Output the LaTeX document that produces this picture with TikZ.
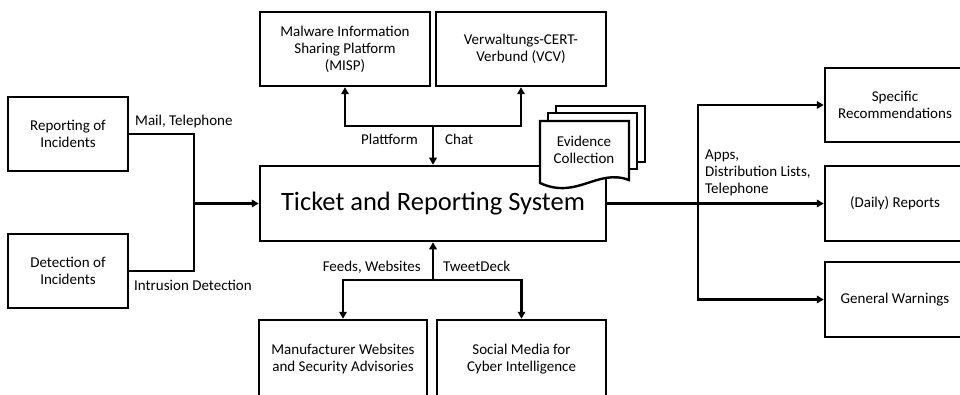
\documentclass[tikz,border=0pt]{standalone}
\usepackage{fontspec}
\setmainfont{Carlito}
\usetikzlibrary{arrows.meta}
\tikzset{
  box/.style={draw, line width=2.5pt, fill=white, align=center, font=\fontsize{15}{17}\selectfont, inner sep=0pt},
  conn/.style={line width=2.5pt},
  arr/.style={line width=2.5pt, -{Triangle[length=7pt,width=7.5pt]}},
  lbl/.style={font=\fontsize{15}{17}\selectfont, inner sep=0pt, align=left},
  sheet/.style={draw, line width=2.4pt, fill=white, line join=miter}
}
\begin{document}
\begin{tikzpicture}[x=1pt,y=-1pt]
\useasboundingbox (0,0) rectangle (960,395);
\clip (0,0) rectangle (960,395);
\fill[white] (0,0) rectangle (960,395);
% nodes
\node[box, minimum width=346pt, minimum height=75pt, font=\fontsize{26.5}{30}\selectfont] (ticket) at (433,203.5) {Ticket and Reporting System};
\node[box, minimum width=120pt, minimum height=74pt] (rep) at (68,134) {Reporting of\\Incidents};
\node[box, minimum width=120pt, minimum height=74pt] (det) at (68,271) {Detection of\\Incidents};
\node[box, minimum width=170pt, minimum height=74pt] (misp) at (345,49) {Malware Information\\Sharing Platform\\(MISP)};
\node[box, minimum width=170pt, minimum height=74pt] (vcv) at (521,49) {Verwaltungs-CERT-\\Verbund (VCV)};
\node[box, minimum width=168pt, minimum height=78pt] (manu) at (343,359) {Manufacturer Websites\\and Security Advisories};
\node[box, minimum width=169pt, minimum height=78pt] (soc) at (521.5,359) {Social Media for\\Cyber Intelligence};
\node[box, minimum width=140pt, minimum height=74pt] (spec) at (895,105) {Specific\\Recommendations};
\node[box, minimum width=140pt, minimum height=75pt] (daily) at (895,203.5) {(Daily) Reports};
\node[box, minimum width=140pt, minimum height=75pt] (gen) at (895,299.5) {General Warnings};
% junctions
\coordinate (jl) at (194,203.5);
\coordinate (jt) at (433,126);
\coordinate (jb) at (433,280);
\coordinate (jr) at (698,203.5);
% left
\draw[conn] (rep.east) -| (jl);
\draw[conn] (det.east) -| (jl);
\draw[arr] (jl) -- (ticket.west);
\node[lbl, anchor=base west] (l1) at (135,126) {Mail, Telephone};
\node[lbl, anchor=base west] (l2) at (134,290) {Intrusion Detection};
% top
\draw[arr] (jt) -| (misp.south);
\draw[arr] (jt) -| (vcv.south);
\draw[arr] (jt) -- (ticket.north);
\node[lbl, anchor=base east] (l3) at (418,145) {Plattform};
\node[lbl, anchor=base west] (l4) at (445,145) {Chat};
% bottom
\draw[arr] (jb) -- (ticket.south);
\draw[arr] (jb) -| (manu.north);
\draw[arr] (jb) -| (soc.north);
\node[lbl, anchor=base east] (l5) at (421,271) {Feeds, Websites};
\node[lbl, anchor=base west] (l6) at (443,271) {TweetDeck};
% right
\draw[arr] (ticket.east) -- (daily.west);
\draw[arr] (jr) |- (spec.west);
\draw[arr] (jr) |- (gen.west);
\node[lbl, anchor=north west] (l7) at (705,150) {Apps,\\Distribution Lists,\\Telephone};
% evidence collection
\draw[sheet] (556,106) rectangle (645,162);
\draw[sheet] (548,113) rectangle (637,169);
\draw[sheet] (540,183) -- (540,121) -- (629,121) -- (629,180) .. controls (597,168) and (577,200) .. (540,183) -- cycle;
\node[lbl, align=center, anchor=center] (ev) at (584,150) {Evidence\\Collection};
\end{tikzpicture}
\end{document}
